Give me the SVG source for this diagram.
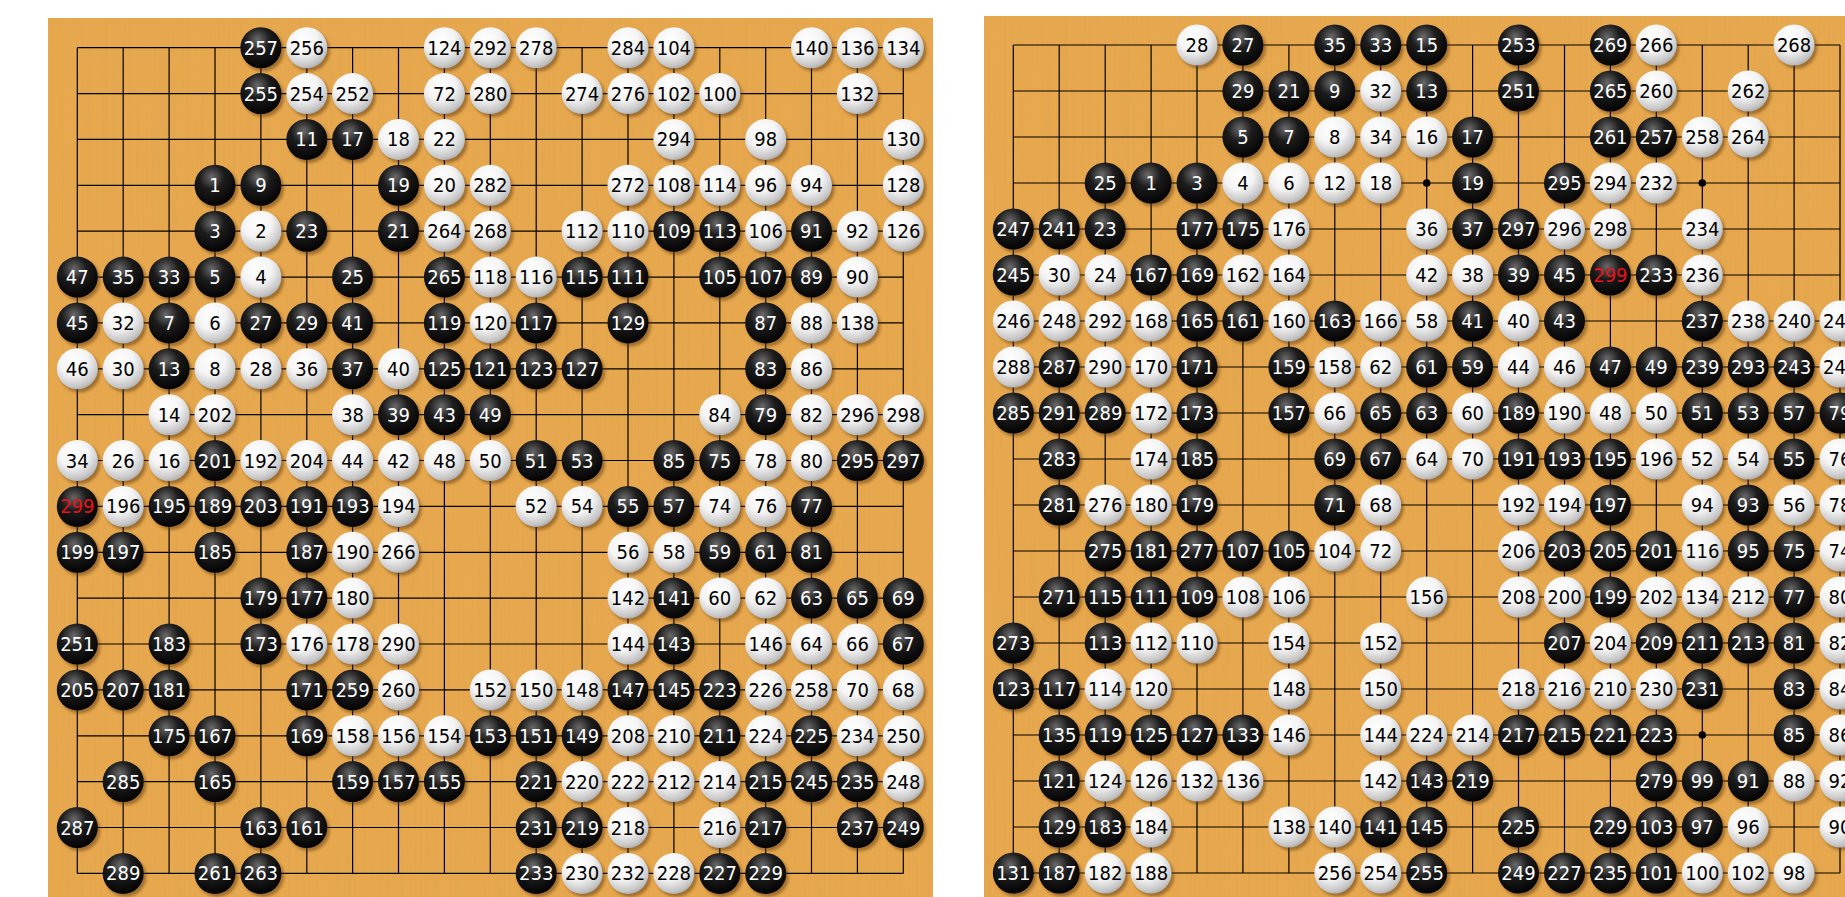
<svg xmlns="http://www.w3.org/2000/svg" width="1845" height="897" viewBox="0 0 1845 897">
<style>
text{font-family:"DejaVu Sans Condensed","DejaVu Sans",sans-serif;font-stretch:condensed;font-size:20px;text-anchor:middle;dominant-baseline:central}
.b text{fill:#fff}
.w text{fill:#000}
.r text{fill:#e8121a}
.p text{text-anchor:start}
.grid{fill:none;stroke:#000;stroke-width:1.2}
</style>
<defs>
<radialGradient id="gb" cx="0.42" cy="0.3" r="0.75"><stop offset="0" stop-color="#6a6a6a"/><stop offset="0.4" stop-color="#1c1c1c"/><stop offset="1" stop-color="#000"/></radialGradient>
<radialGradient id="gw" cx="0.4" cy="0.3" r="0.8"><stop offset="0" stop-color="#fff"/><stop offset="0.45" stop-color="#f4f4f4"/><stop offset="0.8" stop-color="#c6c6c6"/><stop offset="1" stop-color="#979797"/></radialGradient>
<filter id="sh" x="-40%" y="-40%" width="180%" height="180%"><feGaussianBlur stdDeviation="1.4"/></filter>
<filter id="grain" x="0" y="0" width="100%" height="100%"><feTurbulence type="fractalNoise" baseFrequency="0.8 0.004" numOctaves="2" seed="5"/><feColorMatrix type="matrix" values="0 0 0 0 0.6  0 0 0 0 0.35  0 0 0 0 0.08  1.2 0 0 0 -0.5"/></filter>
<g id="B"><circle cx="2.5" cy="3" r="20.5" fill="#5a3508" opacity="0.5" filter="url(#sh)"/><circle r="20.5" fill="url(#gb)"/></g>
<g id="W"><circle cx="2.5" cy="3" r="20.5" fill="#5a3508" opacity="0.5" filter="url(#sh)"/><circle r="20.5" fill="url(#gw)"/></g>
</defs>
<rect width="1845" height="897" fill="#fff"/>
<g id="boards">
<rect x="48" y="18" width="885" height="879" fill="#E8A84E"/>
<rect x="48" y="18" width="885" height="879" filter="url(#grain)" opacity="0.5"/>
<rect x="984" y="16" width="861" height="881" fill="#E8A84E"/>
<rect x="984" y="16" width="861" height="881" filter="url(#grain)" opacity="0.5"/>
</g>
<g id="connectors">
<path class="grid" d="M77.3 47.7V873.4M123.2 47.7V873.4M169.1 47.7V873.4M215 47.7V873.4M260.9 47.7V873.4M306.8 47.7V873.4M352.6 47.7V873.4M398.5 47.7V873.4M444.4 47.7V873.4M490.3 47.7V873.4M536.2 47.7V873.4M582.1 47.7V873.4M628 47.7V873.4M673.9 47.7V873.4M719.8 47.7V873.4M765.7 47.7V873.4M811.5 47.7V873.4M857.4 47.7V873.4M903.3 47.7V873.4M77.3 47.7H903.3M77.3 93.6H903.3M77.3 139.4H903.3M77.3 185.3H903.3M77.3 231.2H903.3M77.3 277.1H903.3M77.3 322.9H903.3M77.3 368.8H903.3M77.3 414.7H903.3M77.3 460.5H903.3M77.3 506.4H903.3M77.3 552.3H903.3M77.3 598.1H903.3M77.3 644H903.3M77.3 689.9H903.3M77.3 735.8H903.3M77.3 781.6H903.3M77.3 827.5H903.3M77.3 873.4H903.3"/>
<path class="grid" d="M1013.3 45V873M1059.2 45V873M1105.2 45V873M1151.1 45V873M1197 45V873M1242.9 45V873M1288.9 45V873M1334.8 45V873M1380.7 45V873M1426.7 45V873M1472.6 45V873M1518.5 45V873M1564.5 45V873M1610.4 45V873M1656.3 45V873M1702.3 45V873M1748.2 45V873M1794.1 45V873M1840 45V873M1013.3 45H1840M1013.3 91H1840M1013.3 137H1840M1013.3 183H1840M1013.3 229H1840M1013.3 275H1840M1013.3 321H1840M1013.3 367H1840M1013.3 413H1840M1013.3 459H1840M1013.3 505H1840M1013.3 551H1840M1013.3 597H1840M1013.3 643H1840M1013.3 689H1840M1013.3 735H1840M1013.3 781H1840M1013.3 827H1840M1013.3 873H1840"/>
<circle cx="1426.7" cy="183" r="3.8"/><circle cx="1702.3" cy="183" r="3.8"/><circle cx="1702.3" cy="735" r="3.8"/>
</g>
<g id="left-board">
<g id="L257" class="b" transform="translate(260.9 47.7)"><use href="#B"/><text>257</text></g>
<g id="L256" class="w" transform="translate(306.8 47.7)"><use href="#W"/><text>256</text></g>
<g id="L124" class="w" transform="translate(444.4 47.7)"><use href="#W"/><text>124</text></g>
<g id="L292" class="w" transform="translate(490.3 47.7)"><use href="#W"/><text>292</text></g>
<g id="L278" class="w" transform="translate(536.2 47.7)"><use href="#W"/><text>278</text></g>
<g id="L284" class="w" transform="translate(628 47.7)"><use href="#W"/><text>284</text></g>
<g id="L104" class="w" transform="translate(673.9 47.7)"><use href="#W"/><text>104</text></g>
<g id="L140" class="w" transform="translate(811.5 47.7)"><use href="#W"/><text>140</text></g>
<g id="L136" class="w" transform="translate(857.4 47.7)"><use href="#W"/><text>136</text></g>
<g id="L134" class="w" transform="translate(903.3 47.7)"><use href="#W"/><text>134</text></g>
<g id="L255" class="b" transform="translate(260.9 93.6)"><use href="#B"/><text>255</text></g>
<g id="L254" class="w" transform="translate(306.8 93.6)"><use href="#W"/><text>254</text></g>
<g id="L252" class="w" transform="translate(352.6 93.6)"><use href="#W"/><text>252</text></g>
<g id="L72" class="w" transform="translate(444.4 93.6)"><use href="#W"/><text>72</text></g>
<g id="L280" class="w" transform="translate(490.3 93.6)"><use href="#W"/><text>280</text></g>
<g id="L274" class="w" transform="translate(582.1 93.6)"><use href="#W"/><text>274</text></g>
<g id="L276" class="w" transform="translate(628 93.6)"><use href="#W"/><text>276</text></g>
<g id="L102" class="w" transform="translate(673.9 93.6)"><use href="#W"/><text>102</text></g>
<g id="L100" class="w" transform="translate(719.8 93.6)"><use href="#W"/><text>100</text></g>
<g id="L132" class="w" transform="translate(857.4 93.6)"><use href="#W"/><text>132</text></g>
<g id="L11" class="b" transform="translate(306.8 139.4)"><use href="#B"/><text>11</text></g>
<g id="L17" class="b" transform="translate(352.6 139.4)"><use href="#B"/><text>17</text></g>
<g id="L18" class="w" transform="translate(398.5 139.4)"><use href="#W"/><text>18</text></g>
<g id="L22" class="w" transform="translate(444.4 139.4)"><use href="#W"/><text>22</text></g>
<g id="L294" class="w" transform="translate(673.9 139.4)"><use href="#W"/><text>294</text></g>
<g id="L98" class="w" transform="translate(765.7 139.4)"><use href="#W"/><text>98</text></g>
<g id="L130" class="w" transform="translate(903.3 139.4)"><use href="#W"/><text>130</text></g>
<g id="L1" class="b" transform="translate(215 185.3)"><use href="#B"/><text>1</text></g>
<g id="L9" class="b" transform="translate(260.9 185.3)"><use href="#B"/><text>9</text></g>
<g id="L19" class="b" transform="translate(398.5 185.3)"><use href="#B"/><text>19</text></g>
<g id="L20" class="w" transform="translate(444.4 185.3)"><use href="#W"/><text>20</text></g>
<g id="L282" class="w" transform="translate(490.3 185.3)"><use href="#W"/><text>282</text></g>
<g id="L272" class="w" transform="translate(628 185.3)"><use href="#W"/><text>272</text></g>
<g id="L108" class="w" transform="translate(673.9 185.3)"><use href="#W"/><text>108</text></g>
<g id="L114" class="w" transform="translate(719.8 185.3)"><use href="#W"/><text>114</text></g>
<g id="L96" class="w" transform="translate(765.7 185.3)"><use href="#W"/><text>96</text></g>
<g id="L94" class="w" transform="translate(811.5 185.3)"><use href="#W"/><text>94</text></g>
<g id="L128" class="w" transform="translate(903.3 185.3)"><use href="#W"/><text>128</text></g>
<g id="L3" class="b" transform="translate(215 231.2)"><use href="#B"/><text>3</text></g>
<g id="L2" class="w" transform="translate(260.9 231.2)"><use href="#W"/><text>2</text></g>
<g id="L23" class="b" transform="translate(306.8 231.2)"><use href="#B"/><text>23</text></g>
<g id="L21" class="b" transform="translate(398.5 231.2)"><use href="#B"/><text>21</text></g>
<g id="L264" class="w" transform="translate(444.4 231.2)"><use href="#W"/><text>264</text></g>
<g id="L268" class="w" transform="translate(490.3 231.2)"><use href="#W"/><text>268</text></g>
<g id="L112" class="w" transform="translate(582.1 231.2)"><use href="#W"/><text>112</text></g>
<g id="L110" class="w" transform="translate(628 231.2)"><use href="#W"/><text>110</text></g>
<g id="L109" class="b" transform="translate(673.9 231.2)"><use href="#B"/><text>109</text></g>
<g id="L113" class="b" transform="translate(719.8 231.2)"><use href="#B"/><text>113</text></g>
<g id="L106" class="w" transform="translate(765.7 231.2)"><use href="#W"/><text>106</text></g>
<g id="L91" class="b" transform="translate(811.5 231.2)"><use href="#B"/><text>91</text></g>
<g id="L92" class="w" transform="translate(857.4 231.2)"><use href="#W"/><text>92</text></g>
<g id="L126" class="w" transform="translate(903.3 231.2)"><use href="#W"/><text>126</text></g>
<g id="L47" class="b" transform="translate(77.3 277.1)"><use href="#B"/><text>47</text></g>
<g id="L35" class="b" transform="translate(123.2 277.1)"><use href="#B"/><text>35</text></g>
<g id="L33" class="b" transform="translate(169.1 277.1)"><use href="#B"/><text>33</text></g>
<g id="L5" class="b" transform="translate(215 277.1)"><use href="#B"/><text>5</text></g>
<g id="L4" class="w" transform="translate(260.9 277.1)"><use href="#W"/><text>4</text></g>
<g id="L25" class="b" transform="translate(352.6 277.1)"><use href="#B"/><text>25</text></g>
<g id="L265" class="b" transform="translate(444.4 277.1)"><use href="#B"/><text>265</text></g>
<g id="L118" class="w" transform="translate(490.3 277.1)"><use href="#W"/><text>118</text></g>
<g id="L116" class="w" transform="translate(536.2 277.1)"><use href="#W"/><text>116</text></g>
<g id="L115" class="b" transform="translate(582.1 277.1)"><use href="#B"/><text>115</text></g>
<g id="L111" class="b" transform="translate(628 277.1)"><use href="#B"/><text>111</text></g>
<g id="L105" class="b" transform="translate(719.8 277.1)"><use href="#B"/><text>105</text></g>
<g id="L107" class="b" transform="translate(765.7 277.1)"><use href="#B"/><text>107</text></g>
<g id="L89" class="b" transform="translate(811.5 277.1)"><use href="#B"/><text>89</text></g>
<g id="L90" class="w" transform="translate(857.4 277.1)"><use href="#W"/><text>90</text></g>
<g id="L45" class="b" transform="translate(77.3 322.9)"><use href="#B"/><text>45</text></g>
<g id="L32" class="w" transform="translate(123.2 322.9)"><use href="#W"/><text>32</text></g>
<g id="L7" class="b" transform="translate(169.1 322.9)"><use href="#B"/><text>7</text></g>
<g id="L6" class="w" transform="translate(215 322.9)"><use href="#W"/><text>6</text></g>
<g id="L27" class="b" transform="translate(260.9 322.9)"><use href="#B"/><text>27</text></g>
<g id="L29" class="b" transform="translate(306.8 322.9)"><use href="#B"/><text>29</text></g>
<g id="L41" class="b" transform="translate(352.6 322.9)"><use href="#B"/><text>41</text></g>
<g id="L119" class="b" transform="translate(444.4 322.9)"><use href="#B"/><text>119</text></g>
<g id="L120" class="w" transform="translate(490.3 322.9)"><use href="#W"/><text>120</text></g>
<g id="L117" class="b" transform="translate(536.2 322.9)"><use href="#B"/><text>117</text></g>
<g id="L129" class="b" transform="translate(628 322.9)"><use href="#B"/><text>129</text></g>
<g id="L87" class="b" transform="translate(765.7 322.9)"><use href="#B"/><text>87</text></g>
<g id="L88" class="w" transform="translate(811.5 322.9)"><use href="#W"/><text>88</text></g>
<g id="L138" class="w" transform="translate(857.4 322.9)"><use href="#W"/><text>138</text></g>
<g id="L46" class="w" transform="translate(77.3 368.8)"><use href="#W"/><text>46</text></g>
<g id="L30" class="w" transform="translate(123.2 368.8)"><use href="#W"/><text>30</text></g>
<g id="L13" class="b" transform="translate(169.1 368.8)"><use href="#B"/><text>13</text></g>
<g id="L8" class="w" transform="translate(215 368.8)"><use href="#W"/><text>8</text></g>
<g id="L28" class="w" transform="translate(260.9 368.8)"><use href="#W"/><text>28</text></g>
<g id="L36" class="w" transform="translate(306.8 368.8)"><use href="#W"/><text>36</text></g>
<g id="L37" class="b" transform="translate(352.6 368.8)"><use href="#B"/><text>37</text></g>
<g id="L40" class="w" transform="translate(398.5 368.8)"><use href="#W"/><text>40</text></g>
<g id="L125" class="b" transform="translate(444.4 368.8)"><use href="#B"/><text>125</text></g>
<g id="L121" class="b" transform="translate(490.3 368.8)"><use href="#B"/><text>121</text></g>
<g id="L123" class="b" transform="translate(536.2 368.8)"><use href="#B"/><text>123</text></g>
<g id="L127" class="b" transform="translate(582.1 368.8)"><use href="#B"/><text>127</text></g>
<g id="L83" class="b" transform="translate(765.7 368.8)"><use href="#B"/><text>83</text></g>
<g id="L86" class="w" transform="translate(811.5 368.8)"><use href="#W"/><text>86</text></g>
<g id="L14" class="w" transform="translate(169.1 414.7)"><use href="#W"/><text>14</text></g>
<g id="L202" class="w" transform="translate(215 414.7)"><use href="#W"/><text>202</text></g>
<g id="L38" class="w" transform="translate(352.6 414.7)"><use href="#W"/><text>38</text></g>
<g id="L39" class="b" transform="translate(398.5 414.7)"><use href="#B"/><text>39</text></g>
<g id="L43" class="b" transform="translate(444.4 414.7)"><use href="#B"/><text>43</text></g>
<g id="L49" class="b" transform="translate(490.3 414.7)"><use href="#B"/><text>49</text></g>
<g id="L84" class="w" transform="translate(719.8 414.7)"><use href="#W"/><text>84</text></g>
<g id="L79" class="b" transform="translate(765.7 414.7)"><use href="#B"/><text>79</text></g>
<g id="L82" class="w" transform="translate(811.5 414.7)"><use href="#W"/><text>82</text></g>
<g id="L296" class="w" transform="translate(857.4 414.7)"><use href="#W"/><text>296</text></g>
<g id="L298" class="w" transform="translate(903.3 414.7)"><use href="#W"/><text>298</text></g>
<g id="L34" class="w" transform="translate(77.3 460.5)"><use href="#W"/><text>34</text></g>
<g id="L26" class="w" transform="translate(123.2 460.5)"><use href="#W"/><text>26</text></g>
<g id="L16" class="w" transform="translate(169.1 460.5)"><use href="#W"/><text>16</text></g>
<g id="L201" class="b" transform="translate(215 460.5)"><use href="#B"/><text>201</text></g>
<g id="L192" class="w" transform="translate(260.9 460.5)"><use href="#W"/><text>192</text></g>
<g id="L204" class="w" transform="translate(306.8 460.5)"><use href="#W"/><text>204</text></g>
<g id="L44" class="w" transform="translate(352.6 460.5)"><use href="#W"/><text>44</text></g>
<g id="L42" class="w" transform="translate(398.5 460.5)"><use href="#W"/><text>42</text></g>
<g id="L48" class="w" transform="translate(444.4 460.5)"><use href="#W"/><text>48</text></g>
<g id="L50" class="w" transform="translate(490.3 460.5)"><use href="#W"/><text>50</text></g>
<g id="L51" class="b" transform="translate(536.2 460.5)"><use href="#B"/><text>51</text></g>
<g id="L53" class="b" transform="translate(582.1 460.5)"><use href="#B"/><text>53</text></g>
<g id="L85" class="b" transform="translate(673.9 460.5)"><use href="#B"/><text>85</text></g>
<g id="L75" class="b" transform="translate(719.8 460.5)"><use href="#B"/><text>75</text></g>
<g id="L78" class="w" transform="translate(765.7 460.5)"><use href="#W"/><text>78</text></g>
<g id="L80" class="w" transform="translate(811.5 460.5)"><use href="#W"/><text>80</text></g>
<g id="L295" class="b" transform="translate(857.4 460.5)"><use href="#B"/><text>295</text></g>
<g id="L297" class="b" transform="translate(903.3 460.5)"><use href="#B"/><text>297</text></g>
<g id="L299" class="b r" transform="translate(77.3 506.4)"><use href="#B"/><text>299</text></g>
<g id="L196" class="w" transform="translate(123.2 506.4)"><use href="#W"/><text>196</text></g>
<g id="L195" class="b" transform="translate(169.1 506.4)"><use href="#B"/><text>195</text></g>
<g id="L189" class="b" transform="translate(215 506.4)"><use href="#B"/><text>189</text></g>
<g id="L203" class="b" transform="translate(260.9 506.4)"><use href="#B"/><text>203</text></g>
<g id="L191" class="b" transform="translate(306.8 506.4)"><use href="#B"/><text>191</text></g>
<g id="L193" class="b" transform="translate(352.6 506.4)"><use href="#B"/><text>193</text></g>
<g id="L194" class="w" transform="translate(398.5 506.4)"><use href="#W"/><text>194</text></g>
<g id="L52" class="w" transform="translate(536.2 506.4)"><use href="#W"/><text>52</text></g>
<g id="L54" class="w" transform="translate(582.1 506.4)"><use href="#W"/><text>54</text></g>
<g id="L55" class="b" transform="translate(628 506.4)"><use href="#B"/><text>55</text></g>
<g id="L57" class="b" transform="translate(673.9 506.4)"><use href="#B"/><text>57</text></g>
<g id="L74" class="w" transform="translate(719.8 506.4)"><use href="#W"/><text>74</text></g>
<g id="L76" class="w" transform="translate(765.7 506.4)"><use href="#W"/><text>76</text></g>
<g id="L77" class="b" transform="translate(811.5 506.4)"><use href="#B"/><text>77</text></g>
<g id="L199" class="b" transform="translate(77.3 552.3)"><use href="#B"/><text>199</text></g>
<g id="L197" class="b" transform="translate(123.2 552.3)"><use href="#B"/><text>197</text></g>
<g id="L185" class="b" transform="translate(215 552.3)"><use href="#B"/><text>185</text></g>
<g id="L187" class="b" transform="translate(306.8 552.3)"><use href="#B"/><text>187</text></g>
<g id="L190" class="w" transform="translate(352.6 552.3)"><use href="#W"/><text>190</text></g>
<g id="L266" class="w" transform="translate(398.5 552.3)"><use href="#W"/><text>266</text></g>
<g id="L56" class="w" transform="translate(628 552.3)"><use href="#W"/><text>56</text></g>
<g id="L58" class="w" transform="translate(673.9 552.3)"><use href="#W"/><text>58</text></g>
<g id="L59" class="b" transform="translate(719.8 552.3)"><use href="#B"/><text>59</text></g>
<g id="L61" class="b" transform="translate(765.7 552.3)"><use href="#B"/><text>61</text></g>
<g id="L81" class="b" transform="translate(811.5 552.3)"><use href="#B"/><text>81</text></g>
<g id="L179" class="b" transform="translate(260.9 598.1)"><use href="#B"/><text>179</text></g>
<g id="L177" class="b" transform="translate(306.8 598.1)"><use href="#B"/><text>177</text></g>
<g id="L180" class="w" transform="translate(352.6 598.1)"><use href="#W"/><text>180</text></g>
<g id="L142" class="w" transform="translate(628 598.1)"><use href="#W"/><text>142</text></g>
<g id="L141" class="b" transform="translate(673.9 598.1)"><use href="#B"/><text>141</text></g>
<g id="L60" class="w" transform="translate(719.8 598.1)"><use href="#W"/><text>60</text></g>
<g id="L62" class="w" transform="translate(765.7 598.1)"><use href="#W"/><text>62</text></g>
<g id="L63" class="b" transform="translate(811.5 598.1)"><use href="#B"/><text>63</text></g>
<g id="L65" class="b" transform="translate(857.4 598.1)"><use href="#B"/><text>65</text></g>
<g id="L69" class="b" transform="translate(903.3 598.1)"><use href="#B"/><text>69</text></g>
<g id="L251" class="b" transform="translate(77.3 644)"><use href="#B"/><text>251</text></g>
<g id="L183" class="b" transform="translate(169.1 644)"><use href="#B"/><text>183</text></g>
<g id="L173" class="b" transform="translate(260.9 644)"><use href="#B"/><text>173</text></g>
<g id="L176" class="w" transform="translate(306.8 644)"><use href="#W"/><text>176</text></g>
<g id="L178" class="w" transform="translate(352.6 644)"><use href="#W"/><text>178</text></g>
<g id="L290" class="w" transform="translate(398.5 644)"><use href="#W"/><text>290</text></g>
<g id="L144" class="w" transform="translate(628 644)"><use href="#W"/><text>144</text></g>
<g id="L143" class="b" transform="translate(673.9 644)"><use href="#B"/><text>143</text></g>
<g id="L146" class="w" transform="translate(765.7 644)"><use href="#W"/><text>146</text></g>
<g id="L64" class="w" transform="translate(811.5 644)"><use href="#W"/><text>64</text></g>
<g id="L66" class="w" transform="translate(857.4 644)"><use href="#W"/><text>66</text></g>
<g id="L67" class="b" transform="translate(903.3 644)"><use href="#B"/><text>67</text></g>
<g id="L205" class="b" transform="translate(77.3 689.9)"><use href="#B"/><text>205</text></g>
<g id="L207" class="b" transform="translate(123.2 689.9)"><use href="#B"/><text>207</text></g>
<g id="L181" class="b" transform="translate(169.1 689.9)"><use href="#B"/><text>181</text></g>
<g id="L171" class="b" transform="translate(306.8 689.9)"><use href="#B"/><text>171</text></g>
<g id="L259" class="b" transform="translate(352.6 689.9)"><use href="#B"/><text>259</text></g>
<g id="L260" class="w" transform="translate(398.5 689.9)"><use href="#W"/><text>260</text></g>
<g id="L152" class="w" transform="translate(490.3 689.9)"><use href="#W"/><text>152</text></g>
<g id="L150" class="w" transform="translate(536.2 689.9)"><use href="#W"/><text>150</text></g>
<g id="L148" class="w" transform="translate(582.1 689.9)"><use href="#W"/><text>148</text></g>
<g id="L147" class="b" transform="translate(628 689.9)"><use href="#B"/><text>147</text></g>
<g id="L145" class="b" transform="translate(673.9 689.9)"><use href="#B"/><text>145</text></g>
<g id="L223" class="b" transform="translate(719.8 689.9)"><use href="#B"/><text>223</text></g>
<g id="L226" class="w" transform="translate(765.7 689.9)"><use href="#W"/><text>226</text></g>
<g id="L258" class="w" transform="translate(811.5 689.9)"><use href="#W"/><text>258</text></g>
<g id="L70" class="w" transform="translate(857.4 689.9)"><use href="#W"/><text>70</text></g>
<g id="L68" class="w" transform="translate(903.3 689.9)"><use href="#W"/><text>68</text></g>
<g id="L175" class="b" transform="translate(169.1 735.8)"><use href="#B"/><text>175</text></g>
<g id="L167" class="b" transform="translate(215 735.8)"><use href="#B"/><text>167</text></g>
<g id="L169" class="b" transform="translate(306.8 735.8)"><use href="#B"/><text>169</text></g>
<g id="L158" class="w" transform="translate(352.6 735.8)"><use href="#W"/><text>158</text></g>
<g id="L156" class="w" transform="translate(398.5 735.8)"><use href="#W"/><text>156</text></g>
<g id="L154" class="w" transform="translate(444.4 735.8)"><use href="#W"/><text>154</text></g>
<g id="L153" class="b" transform="translate(490.3 735.8)"><use href="#B"/><text>153</text></g>
<g id="L151" class="b" transform="translate(536.2 735.8)"><use href="#B"/><text>151</text></g>
<g id="L149" class="b" transform="translate(582.1 735.8)"><use href="#B"/><text>149</text></g>
<g id="L208" class="w" transform="translate(628 735.8)"><use href="#W"/><text>208</text></g>
<g id="L210" class="w" transform="translate(673.9 735.8)"><use href="#W"/><text>210</text></g>
<g id="L211" class="b" transform="translate(719.8 735.8)"><use href="#B"/><text>211</text></g>
<g id="L224" class="w" transform="translate(765.7 735.8)"><use href="#W"/><text>224</text></g>
<g id="L225" class="b" transform="translate(811.5 735.8)"><use href="#B"/><text>225</text></g>
<g id="L234" class="w" transform="translate(857.4 735.8)"><use href="#W"/><text>234</text></g>
<g id="L250" class="w" transform="translate(903.3 735.8)"><use href="#W"/><text>250</text></g>
<g id="L285" class="b" transform="translate(123.2 781.6)"><use href="#B"/><text>285</text></g>
<g id="L165" class="b" transform="translate(215 781.6)"><use href="#B"/><text>165</text></g>
<g id="L159" class="b" transform="translate(352.6 781.6)"><use href="#B"/><text>159</text></g>
<g id="L157" class="b" transform="translate(398.5 781.6)"><use href="#B"/><text>157</text></g>
<g id="L155" class="b" transform="translate(444.4 781.6)"><use href="#B"/><text>155</text></g>
<g id="L221" class="b" transform="translate(536.2 781.6)"><use href="#B"/><text>221</text></g>
<g id="L220" class="w" transform="translate(582.1 781.6)"><use href="#W"/><text>220</text></g>
<g id="L222" class="w" transform="translate(628 781.6)"><use href="#W"/><text>222</text></g>
<g id="L212" class="w" transform="translate(673.9 781.6)"><use href="#W"/><text>212</text></g>
<g id="L214" class="w" transform="translate(719.8 781.6)"><use href="#W"/><text>214</text></g>
<g id="L215" class="b" transform="translate(765.7 781.6)"><use href="#B"/><text>215</text></g>
<g id="L245" class="b" transform="translate(811.5 781.6)"><use href="#B"/><text>245</text></g>
<g id="L235" class="b" transform="translate(857.4 781.6)"><use href="#B"/><text>235</text></g>
<g id="L248" class="w" transform="translate(903.3 781.6)"><use href="#W"/><text>248</text></g>
<g id="L287" class="b" transform="translate(77.3 827.5)"><use href="#B"/><text>287</text></g>
<g id="L163" class="b" transform="translate(260.9 827.5)"><use href="#B"/><text>163</text></g>
<g id="L161" class="b" transform="translate(306.8 827.5)"><use href="#B"/><text>161</text></g>
<g id="L231" class="b" transform="translate(536.2 827.5)"><use href="#B"/><text>231</text></g>
<g id="L219" class="b" transform="translate(582.1 827.5)"><use href="#B"/><text>219</text></g>
<g id="L218" class="w" transform="translate(628 827.5)"><use href="#W"/><text>218</text></g>
<g id="L216" class="w" transform="translate(719.8 827.5)"><use href="#W"/><text>216</text></g>
<g id="L217" class="b" transform="translate(765.7 827.5)"><use href="#B"/><text>217</text></g>
<g id="L237" class="b" transform="translate(857.4 827.5)"><use href="#B"/><text>237</text></g>
<g id="L249" class="b" transform="translate(903.3 827.5)"><use href="#B"/><text>249</text></g>
<g id="L289" class="b" transform="translate(123.2 873.4)"><use href="#B"/><text>289</text></g>
<g id="L261" class="b" transform="translate(215 873.4)"><use href="#B"/><text>261</text></g>
<g id="L263" class="b" transform="translate(260.9 873.4)"><use href="#B"/><text>263</text></g>
<g id="L233" class="b" transform="translate(536.2 873.4)"><use href="#B"/><text>233</text></g>
<g id="L230" class="w" transform="translate(582.1 873.4)"><use href="#W"/><text>230</text></g>
<g id="L232" class="w" transform="translate(628 873.4)"><use href="#W"/><text>232</text></g>
<g id="L228" class="w" transform="translate(673.9 873.4)"><use href="#W"/><text>228</text></g>
<g id="L227" class="b" transform="translate(719.8 873.4)"><use href="#B"/><text>227</text></g>
<g id="L229" class="b" transform="translate(765.7 873.4)"><use href="#B"/><text>229</text></g>
</g>
<g id="right-board">
<g id="R28" class="w" transform="translate(1197 45)"><use href="#W"/><text>28</text></g>
<g id="R27" class="b" transform="translate(1242.9 45)"><use href="#B"/><text>27</text></g>
<g id="R35" class="b" transform="translate(1334.8 45)"><use href="#B"/><text>35</text></g>
<g id="R33" class="b" transform="translate(1380.7 45)"><use href="#B"/><text>33</text></g>
<g id="R15" class="b" transform="translate(1426.7 45)"><use href="#B"/><text>15</text></g>
<g id="R253" class="b" transform="translate(1518.5 45)"><use href="#B"/><text>253</text></g>
<g id="R269" class="b" transform="translate(1610.4 45)"><use href="#B"/><text>269</text></g>
<g id="R266" class="w" transform="translate(1656.3 45)"><use href="#W"/><text>266</text></g>
<g id="R268" class="w" transform="translate(1794.1 45)"><use href="#W"/><text>268</text></g>
<g id="R29" class="b" transform="translate(1242.9 91)"><use href="#B"/><text>29</text></g>
<g id="R21" class="b" transform="translate(1288.9 91)"><use href="#B"/><text>21</text></g>
<g id="R9" class="b" transform="translate(1334.8 91)"><use href="#B"/><text>9</text></g>
<g id="R32" class="w" transform="translate(1380.7 91)"><use href="#W"/><text>32</text></g>
<g id="R13" class="b" transform="translate(1426.7 91)"><use href="#B"/><text>13</text></g>
<g id="R251" class="b" transform="translate(1518.5 91)"><use href="#B"/><text>251</text></g>
<g id="R265" class="b" transform="translate(1610.4 91)"><use href="#B"/><text>265</text></g>
<g id="R260" class="w" transform="translate(1656.3 91)"><use href="#W"/><text>260</text></g>
<g id="R262" class="w" transform="translate(1748.2 91)"><use href="#W"/><text>262</text></g>
<g id="R5" class="b" transform="translate(1242.9 137)"><use href="#B"/><text>5</text></g>
<g id="R7" class="b" transform="translate(1288.9 137)"><use href="#B"/><text>7</text></g>
<g id="R8" class="w" transform="translate(1334.8 137)"><use href="#W"/><text>8</text></g>
<g id="R34" class="w" transform="translate(1380.7 137)"><use href="#W"/><text>34</text></g>
<g id="R16" class="w" transform="translate(1426.7 137)"><use href="#W"/><text>16</text></g>
<g id="R17" class="b" transform="translate(1472.6 137)"><use href="#B"/><text>17</text></g>
<g id="R261" class="b" transform="translate(1610.4 137)"><use href="#B"/><text>261</text></g>
<g id="R257" class="b" transform="translate(1656.3 137)"><use href="#B"/><text>257</text></g>
<g id="R258" class="w" transform="translate(1702.3 137)"><use href="#W"/><text>258</text></g>
<g id="R264" class="w" transform="translate(1748.2 137)"><use href="#W"/><text>264</text></g>
<g id="R25" class="b" transform="translate(1105.2 183)"><use href="#B"/><text>25</text></g>
<g id="R1" class="b" transform="translate(1151.1 183)"><use href="#B"/><text>1</text></g>
<g id="R3" class="b" transform="translate(1197 183)"><use href="#B"/><text>3</text></g>
<g id="R4" class="w" transform="translate(1242.9 183)"><use href="#W"/><text>4</text></g>
<g id="R6" class="w" transform="translate(1288.9 183)"><use href="#W"/><text>6</text></g>
<g id="R12" class="w" transform="translate(1334.8 183)"><use href="#W"/><text>12</text></g>
<g id="R18" class="w" transform="translate(1380.7 183)"><use href="#W"/><text>18</text></g>
<g id="R19" class="b" transform="translate(1472.6 183)"><use href="#B"/><text>19</text></g>
<g id="R295" class="b" transform="translate(1564.5 183)"><use href="#B"/><text>295</text></g>
<g id="R294" class="w" transform="translate(1610.4 183)"><use href="#W"/><text>294</text></g>
<g id="R232" class="w" transform="translate(1656.3 183)"><use href="#W"/><text>232</text></g>
<g id="R247" class="b" transform="translate(1013.3 229)"><use href="#B"/><text>247</text></g>
<g id="R241" class="b" transform="translate(1059.2 229)"><use href="#B"/><text>241</text></g>
<g id="R23" class="b" transform="translate(1105.2 229)"><use href="#B"/><text>23</text></g>
<g id="R177" class="b" transform="translate(1197 229)"><use href="#B"/><text>177</text></g>
<g id="R175" class="b" transform="translate(1242.9 229)"><use href="#B"/><text>175</text></g>
<g id="R176" class="w" transform="translate(1288.9 229)"><use href="#W"/><text>176</text></g>
<g id="R36" class="w" transform="translate(1426.7 229)"><use href="#W"/><text>36</text></g>
<g id="R37" class="b" transform="translate(1472.6 229)"><use href="#B"/><text>37</text></g>
<g id="R297" class="b" transform="translate(1518.5 229)"><use href="#B"/><text>297</text></g>
<g id="R296" class="w" transform="translate(1564.5 229)"><use href="#W"/><text>296</text></g>
<g id="R298" class="w" transform="translate(1610.4 229)"><use href="#W"/><text>298</text></g>
<g id="R234" class="w" transform="translate(1702.3 229)"><use href="#W"/><text>234</text></g>
<g id="R245" class="b" transform="translate(1013.3 275)"><use href="#B"/><text>245</text></g>
<g id="R30" class="w" transform="translate(1059.2 275)"><use href="#W"/><text>30</text></g>
<g id="R24" class="w" transform="translate(1105.2 275)"><use href="#W"/><text>24</text></g>
<g id="R167" class="b" transform="translate(1151.1 275)"><use href="#B"/><text>167</text></g>
<g id="R169" class="b" transform="translate(1197 275)"><use href="#B"/><text>169</text></g>
<g id="R162" class="w" transform="translate(1242.9 275)"><use href="#W"/><text>162</text></g>
<g id="R164" class="w" transform="translate(1288.9 275)"><use href="#W"/><text>164</text></g>
<g id="R42" class="w" transform="translate(1426.7 275)"><use href="#W"/><text>42</text></g>
<g id="R38" class="w" transform="translate(1472.6 275)"><use href="#W"/><text>38</text></g>
<g id="R39" class="b" transform="translate(1518.5 275)"><use href="#B"/><text>39</text></g>
<g id="R45" class="b" transform="translate(1564.5 275)"><use href="#B"/><text>45</text></g>
<g id="R299" class="b r" transform="translate(1610.4 275)"><use href="#B"/><text>299</text></g>
<g id="R233" class="b" transform="translate(1656.3 275)"><use href="#B"/><text>233</text></g>
<g id="R236" class="w" transform="translate(1702.3 275)"><use href="#W"/><text>236</text></g>
<g id="R246" class="w" transform="translate(1013.3 321)"><use href="#W"/><text>246</text></g>
<g id="R248" class="w" transform="translate(1059.2 321)"><use href="#W"/><text>248</text></g>
<g id="R292" class="w" transform="translate(1105.2 321)"><use href="#W"/><text>292</text></g>
<g id="R168" class="w" transform="translate(1151.1 321)"><use href="#W"/><text>168</text></g>
<g id="R165" class="b" transform="translate(1197 321)"><use href="#B"/><text>165</text></g>
<g id="R161" class="b" transform="translate(1242.9 321)"><use href="#B"/><text>161</text></g>
<g id="R160" class="w" transform="translate(1288.9 321)"><use href="#W"/><text>160</text></g>
<g id="R163" class="b" transform="translate(1334.8 321)"><use href="#B"/><text>163</text></g>
<g id="R166" class="w" transform="translate(1380.7 321)"><use href="#W"/><text>166</text></g>
<g id="R58" class="w" transform="translate(1426.7 321)"><use href="#W"/><text>58</text></g>
<g id="R41" class="b" transform="translate(1472.6 321)"><use href="#B"/><text>41</text></g>
<g id="R40" class="w" transform="translate(1518.5 321)"><use href="#W"/><text>40</text></g>
<g id="R43" class="b" transform="translate(1564.5 321)"><use href="#B"/><text>43</text></g>
<g id="R237" class="b" transform="translate(1702.3 321)"><use href="#B"/><text>237</text></g>
<g id="R238" class="w" transform="translate(1748.2 321)"><use href="#W"/><text>238</text></g>
<g id="R240" class="w" transform="translate(1794.1 321)"><use href="#W"/><text>240</text></g>
<g id="R24-edge-a" class="w p" transform="translate(1840 321)"><use href="#W"/><text x="-17">24</text></g>
<g id="R288" class="w" transform="translate(1013.3 367)"><use href="#W"/><text>288</text></g>
<g id="R287" class="b" transform="translate(1059.2 367)"><use href="#B"/><text>287</text></g>
<g id="R290" class="w" transform="translate(1105.2 367)"><use href="#W"/><text>290</text></g>
<g id="R170" class="w" transform="translate(1151.1 367)"><use href="#W"/><text>170</text></g>
<g id="R171" class="b" transform="translate(1197 367)"><use href="#B"/><text>171</text></g>
<g id="R159" class="b" transform="translate(1288.9 367)"><use href="#B"/><text>159</text></g>
<g id="R158" class="w" transform="translate(1334.8 367)"><use href="#W"/><text>158</text></g>
<g id="R62" class="w" transform="translate(1380.7 367)"><use href="#W"/><text>62</text></g>
<g id="R61" class="b" transform="translate(1426.7 367)"><use href="#B"/><text>61</text></g>
<g id="R59" class="b" transform="translate(1472.6 367)"><use href="#B"/><text>59</text></g>
<g id="R44" class="w" transform="translate(1518.5 367)"><use href="#W"/><text>44</text></g>
<g id="R46" class="w" transform="translate(1564.5 367)"><use href="#W"/><text>46</text></g>
<g id="R47" class="b" transform="translate(1610.4 367)"><use href="#B"/><text>47</text></g>
<g id="R49" class="b" transform="translate(1656.3 367)"><use href="#B"/><text>49</text></g>
<g id="R239" class="b" transform="translate(1702.3 367)"><use href="#B"/><text>239</text></g>
<g id="R293" class="b" transform="translate(1748.2 367)"><use href="#B"/><text>293</text></g>
<g id="R243" class="b" transform="translate(1794.1 367)"><use href="#B"/><text>243</text></g>
<g id="R24-edge-b" class="w p" transform="translate(1840 367)"><use href="#W"/><text x="-17">24</text></g>
<g id="R285" class="b" transform="translate(1013.3 413)"><use href="#B"/><text>285</text></g>
<g id="R291" class="b" transform="translate(1059.2 413)"><use href="#B"/><text>291</text></g>
<g id="R289" class="b" transform="translate(1105.2 413)"><use href="#B"/><text>289</text></g>
<g id="R172" class="w" transform="translate(1151.1 413)"><use href="#W"/><text>172</text></g>
<g id="R173" class="b" transform="translate(1197 413)"><use href="#B"/><text>173</text></g>
<g id="R157" class="b" transform="translate(1288.9 413)"><use href="#B"/><text>157</text></g>
<g id="R66" class="w" transform="translate(1334.8 413)"><use href="#W"/><text>66</text></g>
<g id="R65" class="b" transform="translate(1380.7 413)"><use href="#B"/><text>65</text></g>
<g id="R63" class="b" transform="translate(1426.7 413)"><use href="#B"/><text>63</text></g>
<g id="R60" class="w" transform="translate(1472.6 413)"><use href="#W"/><text>60</text></g>
<g id="R189" class="b" transform="translate(1518.5 413)"><use href="#B"/><text>189</text></g>
<g id="R190" class="w" transform="translate(1564.5 413)"><use href="#W"/><text>190</text></g>
<g id="R48" class="w" transform="translate(1610.4 413)"><use href="#W"/><text>48</text></g>
<g id="R50" class="w" transform="translate(1656.3 413)"><use href="#W"/><text>50</text></g>
<g id="R51" class="b" transform="translate(1702.3 413)"><use href="#B"/><text>51</text></g>
<g id="R53" class="b" transform="translate(1748.2 413)"><use href="#B"/><text>53</text></g>
<g id="R57" class="b" transform="translate(1794.1 413)"><use href="#B"/><text>57</text></g>
<g id="R79" class="b" transform="translate(1840 413)"><use href="#B"/><text>79</text></g>
<g id="R283" class="b" transform="translate(1059.2 459)"><use href="#B"/><text>283</text></g>
<g id="R174" class="w" transform="translate(1151.1 459)"><use href="#W"/><text>174</text></g>
<g id="R185" class="b" transform="translate(1197 459)"><use href="#B"/><text>185</text></g>
<g id="R69" class="b" transform="translate(1334.8 459)"><use href="#B"/><text>69</text></g>
<g id="R67" class="b" transform="translate(1380.7 459)"><use href="#B"/><text>67</text></g>
<g id="R64" class="w" transform="translate(1426.7 459)"><use href="#W"/><text>64</text></g>
<g id="R70" class="w" transform="translate(1472.6 459)"><use href="#W"/><text>70</text></g>
<g id="R191" class="b" transform="translate(1518.5 459)"><use href="#B"/><text>191</text></g>
<g id="R193" class="b" transform="translate(1564.5 459)"><use href="#B"/><text>193</text></g>
<g id="R195" class="b" transform="translate(1610.4 459)"><use href="#B"/><text>195</text></g>
<g id="R196" class="w" transform="translate(1656.3 459)"><use href="#W"/><text>196</text></g>
<g id="R52" class="w" transform="translate(1702.3 459)"><use href="#W"/><text>52</text></g>
<g id="R54" class="w" transform="translate(1748.2 459)"><use href="#W"/><text>54</text></g>
<g id="R55" class="b" transform="translate(1794.1 459)"><use href="#B"/><text>55</text></g>
<g id="R76" class="w" transform="translate(1840 459)"><use href="#W"/><text>76</text></g>
<g id="R281" class="b" transform="translate(1059.2 505)"><use href="#B"/><text>281</text></g>
<g id="R276" class="w" transform="translate(1105.2 505)"><use href="#W"/><text>276</text></g>
<g id="R180" class="w" transform="translate(1151.1 505)"><use href="#W"/><text>180</text></g>
<g id="R179" class="b" transform="translate(1197 505)"><use href="#B"/><text>179</text></g>
<g id="R71" class="b" transform="translate(1334.8 505)"><use href="#B"/><text>71</text></g>
<g id="R68" class="w" transform="translate(1380.7 505)"><use href="#W"/><text>68</text></g>
<g id="R192" class="w" transform="translate(1518.5 505)"><use href="#W"/><text>192</text></g>
<g id="R194" class="w" transform="translate(1564.5 505)"><use href="#W"/><text>194</text></g>
<g id="R197" class="b" transform="translate(1610.4 505)"><use href="#B"/><text>197</text></g>
<g id="R94" class="w" transform="translate(1702.3 505)"><use href="#W"/><text>94</text></g>
<g id="R93" class="b" transform="translate(1748.2 505)"><use href="#B"/><text>93</text></g>
<g id="R56" class="w" transform="translate(1794.1 505)"><use href="#W"/><text>56</text></g>
<g id="R78" class="w" transform="translate(1840 505)"><use href="#W"/><text>78</text></g>
<g id="R275" class="b" transform="translate(1105.2 551)"><use href="#B"/><text>275</text></g>
<g id="R181" class="b" transform="translate(1151.1 551)"><use href="#B"/><text>181</text></g>
<g id="R277" class="b" transform="translate(1197 551)"><use href="#B"/><text>277</text></g>
<g id="R107" class="b" transform="translate(1242.9 551)"><use href="#B"/><text>107</text></g>
<g id="R105" class="b" transform="translate(1288.9 551)"><use href="#B"/><text>105</text></g>
<g id="R104" class="w" transform="translate(1334.8 551)"><use href="#W"/><text>104</text></g>
<g id="R72" class="w" transform="translate(1380.7 551)"><use href="#W"/><text>72</text></g>
<g id="R206" class="w" transform="translate(1518.5 551)"><use href="#W"/><text>206</text></g>
<g id="R203" class="b" transform="translate(1564.5 551)"><use href="#B"/><text>203</text></g>
<g id="R205" class="b" transform="translate(1610.4 551)"><use href="#B"/><text>205</text></g>
<g id="R201" class="b" transform="translate(1656.3 551)"><use href="#B"/><text>201</text></g>
<g id="R116" class="w" transform="translate(1702.3 551)"><use href="#W"/><text>116</text></g>
<g id="R95" class="b" transform="translate(1748.2 551)"><use href="#B"/><text>95</text></g>
<g id="R75" class="b" transform="translate(1794.1 551)"><use href="#B"/><text>75</text></g>
<g id="R74" class="w" transform="translate(1840 551)"><use href="#W"/><text>74</text></g>
<g id="R271" class="b" transform="translate(1059.2 597)"><use href="#B"/><text>271</text></g>
<g id="R115" class="b" transform="translate(1105.2 597)"><use href="#B"/><text>115</text></g>
<g id="R111" class="b" transform="translate(1151.1 597)"><use href="#B"/><text>111</text></g>
<g id="R109" class="b" transform="translate(1197 597)"><use href="#B"/><text>109</text></g>
<g id="R108" class="w" transform="translate(1242.9 597)"><use href="#W"/><text>108</text></g>
<g id="R106" class="w" transform="translate(1288.9 597)"><use href="#W"/><text>106</text></g>
<g id="R156" class="w" transform="translate(1426.7 597)"><use href="#W"/><text>156</text></g>
<g id="R208" class="w" transform="translate(1518.5 597)"><use href="#W"/><text>208</text></g>
<g id="R200" class="w" transform="translate(1564.5 597)"><use href="#W"/><text>200</text></g>
<g id="R199" class="b" transform="translate(1610.4 597)"><use href="#B"/><text>199</text></g>
<g id="R202" class="w" transform="translate(1656.3 597)"><use href="#W"/><text>202</text></g>
<g id="R134" class="w" transform="translate(1702.3 597)"><use href="#W"/><text>134</text></g>
<g id="R212" class="w" transform="translate(1748.2 597)"><use href="#W"/><text>212</text></g>
<g id="R77" class="b" transform="translate(1794.1 597)"><use href="#B"/><text>77</text></g>
<g id="R80" class="w" transform="translate(1840 597)"><use href="#W"/><text>80</text></g>
<g id="R273" class="b" transform="translate(1013.3 643)"><use href="#B"/><text>273</text></g>
<g id="R113" class="b" transform="translate(1105.2 643)"><use href="#B"/><text>113</text></g>
<g id="R112" class="w" transform="translate(1151.1 643)"><use href="#W"/><text>112</text></g>
<g id="R110" class="w" transform="translate(1197 643)"><use href="#W"/><text>110</text></g>
<g id="R154" class="w" transform="translate(1288.9 643)"><use href="#W"/><text>154</text></g>
<g id="R152" class="w" transform="translate(1380.7 643)"><use href="#W"/><text>152</text></g>
<g id="R207" class="b" transform="translate(1564.5 643)"><use href="#B"/><text>207</text></g>
<g id="R204" class="w" transform="translate(1610.4 643)"><use href="#W"/><text>204</text></g>
<g id="R209" class="b" transform="translate(1656.3 643)"><use href="#B"/><text>209</text></g>
<g id="R211" class="b" transform="translate(1702.3 643)"><use href="#B"/><text>211</text></g>
<g id="R213" class="b" transform="translate(1748.2 643)"><use href="#B"/><text>213</text></g>
<g id="R81" class="b" transform="translate(1794.1 643)"><use href="#B"/><text>81</text></g>
<g id="R82" class="w" transform="translate(1840 643)"><use href="#W"/><text>82</text></g>
<g id="R123" class="b" transform="translate(1013.3 689)"><use href="#B"/><text>123</text></g>
<g id="R117" class="b" transform="translate(1059.2 689)"><use href="#B"/><text>117</text></g>
<g id="R114" class="w" transform="translate(1105.2 689)"><use href="#W"/><text>114</text></g>
<g id="R120" class="w" transform="translate(1151.1 689)"><use href="#W"/><text>120</text></g>
<g id="R148" class="w" transform="translate(1288.9 689)"><use href="#W"/><text>148</text></g>
<g id="R150" class="w" transform="translate(1380.7 689)"><use href="#W"/><text>150</text></g>
<g id="R218" class="w" transform="translate(1518.5 689)"><use href="#W"/><text>218</text></g>
<g id="R216" class="w" transform="translate(1564.5 689)"><use href="#W"/><text>216</text></g>
<g id="R210" class="w" transform="translate(1610.4 689)"><use href="#W"/><text>210</text></g>
<g id="R230" class="w" transform="translate(1656.3 689)"><use href="#W"/><text>230</text></g>
<g id="R231" class="b" transform="translate(1702.3 689)"><use href="#B"/><text>231</text></g>
<g id="R83" class="b" transform="translate(1794.1 689)"><use href="#B"/><text>83</text></g>
<g id="R84" class="w" transform="translate(1840 689)"><use href="#W"/><text>84</text></g>
<g id="R135" class="b" transform="translate(1059.2 735)"><use href="#B"/><text>135</text></g>
<g id="R119" class="b" transform="translate(1105.2 735)"><use href="#B"/><text>119</text></g>
<g id="R125" class="b" transform="translate(1151.1 735)"><use href="#B"/><text>125</text></g>
<g id="R127" class="b" transform="translate(1197 735)"><use href="#B"/><text>127</text></g>
<g id="R133" class="b" transform="translate(1242.9 735)"><use href="#B"/><text>133</text></g>
<g id="R146" class="w" transform="translate(1288.9 735)"><use href="#W"/><text>146</text></g>
<g id="R144" class="w" transform="translate(1380.7 735)"><use href="#W"/><text>144</text></g>
<g id="R224" class="w" transform="translate(1426.7 735)"><use href="#W"/><text>224</text></g>
<g id="R214" class="w" transform="translate(1472.6 735)"><use href="#W"/><text>214</text></g>
<g id="R217" class="b" transform="translate(1518.5 735)"><use href="#B"/><text>217</text></g>
<g id="R215" class="b" transform="translate(1564.5 735)"><use href="#B"/><text>215</text></g>
<g id="R221" class="b" transform="translate(1610.4 735)"><use href="#B"/><text>221</text></g>
<g id="R223" class="b" transform="translate(1656.3 735)"><use href="#B"/><text>223</text></g>
<g id="R85" class="b" transform="translate(1794.1 735)"><use href="#B"/><text>85</text></g>
<g id="R86" class="w" transform="translate(1840 735)"><use href="#W"/><text>86</text></g>
<g id="R121" class="b" transform="translate(1059.2 781)"><use href="#B"/><text>121</text></g>
<g id="R124" class="w" transform="translate(1105.2 781)"><use href="#W"/><text>124</text></g>
<g id="R126" class="w" transform="translate(1151.1 781)"><use href="#W"/><text>126</text></g>
<g id="R132" class="w" transform="translate(1197 781)"><use href="#W"/><text>132</text></g>
<g id="R136" class="w" transform="translate(1242.9 781)"><use href="#W"/><text>136</text></g>
<g id="R142" class="w" transform="translate(1380.7 781)"><use href="#W"/><text>142</text></g>
<g id="R143" class="b" transform="translate(1426.7 781)"><use href="#B"/><text>143</text></g>
<g id="R219" class="b" transform="translate(1472.6 781)"><use href="#B"/><text>219</text></g>
<g id="R279" class="b" transform="translate(1656.3 781)"><use href="#B"/><text>279</text></g>
<g id="R99" class="b" transform="translate(1702.3 781)"><use href="#B"/><text>99</text></g>
<g id="R91" class="b" transform="translate(1748.2 781)"><use href="#B"/><text>91</text></g>
<g id="R88" class="w" transform="translate(1794.1 781)"><use href="#W"/><text>88</text></g>
<g id="R92" class="w" transform="translate(1840 781)"><use href="#W"/><text>92</text></g>
<g id="R129" class="b" transform="translate(1059.2 827)"><use href="#B"/><text>129</text></g>
<g id="R183" class="b" transform="translate(1105.2 827)"><use href="#B"/><text>183</text></g>
<g id="R184" class="w" transform="translate(1151.1 827)"><use href="#W"/><text>184</text></g>
<g id="R138" class="w" transform="translate(1288.9 827)"><use href="#W"/><text>138</text></g>
<g id="R140" class="w" transform="translate(1334.8 827)"><use href="#W"/><text>140</text></g>
<g id="R141" class="b" transform="translate(1380.7 827)"><use href="#B"/><text>141</text></g>
<g id="R145" class="b" transform="translate(1426.7 827)"><use href="#B"/><text>145</text></g>
<g id="R225" class="b" transform="translate(1518.5 827)"><use href="#B"/><text>225</text></g>
<g id="R229" class="b" transform="translate(1610.4 827)"><use href="#B"/><text>229</text></g>
<g id="R103" class="b" transform="translate(1656.3 827)"><use href="#B"/><text>103</text></g>
<g id="R97" class="b" transform="translate(1702.3 827)"><use href="#B"/><text>97</text></g>
<g id="R96" class="w" transform="translate(1748.2 827)"><use href="#W"/><text>96</text></g>
<g id="R90" class="w" transform="translate(1840 827)"><use href="#W"/><text>90</text></g>
<g id="R131" class="b" transform="translate(1013.3 873)"><use href="#B"/><text>131</text></g>
<g id="R187" class="b" transform="translate(1059.2 873)"><use href="#B"/><text>187</text></g>
<g id="R182" class="w" transform="translate(1105.2 873)"><use href="#W"/><text>182</text></g>
<g id="R188" class="w" transform="translate(1151.1 873)"><use href="#W"/><text>188</text></g>
<g id="R256" class="w" transform="translate(1334.8 873)"><use href="#W"/><text>256</text></g>
<g id="R254" class="w" transform="translate(1380.7 873)"><use href="#W"/><text>254</text></g>
<g id="R255" class="b" transform="translate(1426.7 873)"><use href="#B"/><text>255</text></g>
<g id="R249" class="b" transform="translate(1518.5 873)"><use href="#B"/><text>249</text></g>
<g id="R227" class="b" transform="translate(1564.5 873)"><use href="#B"/><text>227</text></g>
<g id="R235" class="b" transform="translate(1610.4 873)"><use href="#B"/><text>235</text></g>
<g id="R101" class="b" transform="translate(1656.3 873)"><use href="#B"/><text>101</text></g>
<g id="R100" class="w" transform="translate(1702.3 873)"><use href="#W"/><text>100</text></g>
<g id="R102" class="w" transform="translate(1748.2 873)"><use href="#W"/><text>102</text></g>
<g id="R98" class="w" transform="translate(1794.1 873)"><use href="#W"/><text>98</text></g>
</g>
</svg>
